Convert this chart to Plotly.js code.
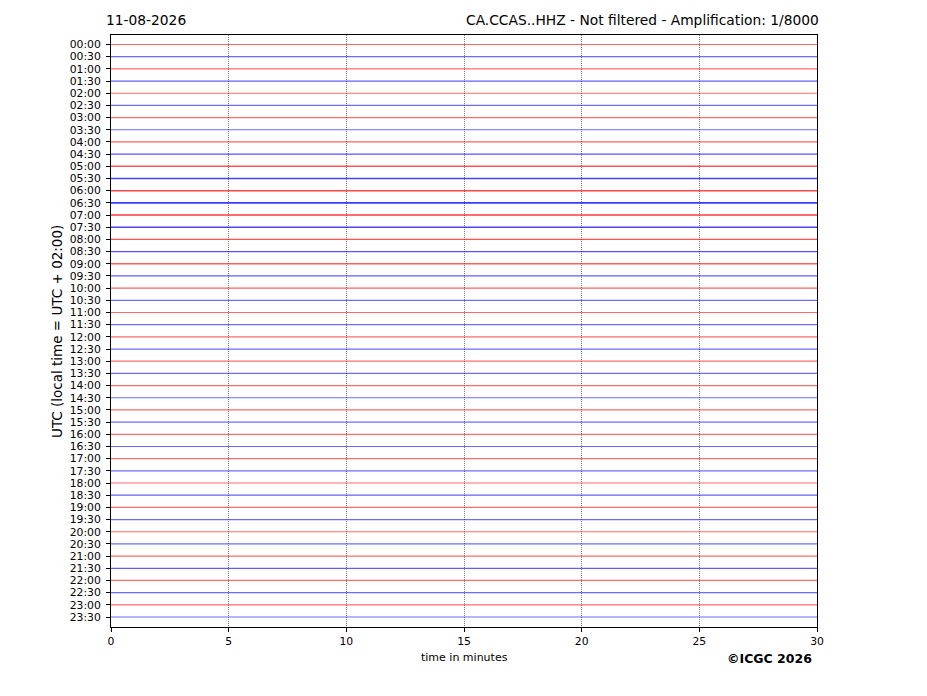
<!DOCTYPE html>
<html>
<head>
<meta charset="utf-8">
<script src="https://cdn.plot.ly/plotly-3.0.1.min.js"></script>
<style>
  body { margin: 0; background: #fff; }
  #chart { width: 927px; height: 696px; }
</style>
</head>
<body>
<div id="chart"></div>
<script>
// one row per half hour, 00:00 .. 23:30
const rowLabels = [
    '00:00','00:30','01:00','01:30','02:00','02:30','03:00','03:30',
    '04:00','04:30','05:00','05:30','06:00','06:30','07:00','07:30',
    '08:00','08:30','09:00','09:30','10:00','10:30','11:00','11:30',
    '12:00','12:30','13:00','13:30','14:00','14:30','15:00','15:30',
    '16:00','16:30','17:00','17:30','18:00','18:30','19:00','19:30',
    '20:00','20:30','21:00','21:30','22:00','22:30','23:00','23:30'
];

// rough noise level of each row (0 = quiet, 1 = busy)
const rowNoise = [
    0.3, 0.3, 0.3, 0.4, 0.3, 0.3, 0.3, 0.3,
    0.4, 0.5, 0.5, 0.6, 0.6, 0.7, 0.7, 0.6,
    0.5, 0.5, 0.4, 0.4, 0.4, 0.3, 0.3, 0.3,
    0.3, 0.3, 0.3, 0.3, 0.3, 0.3, 0.3, 0.3,
    0.3, 0.3, 0.3, 0.3, 0.3, 0.4, 0.3, 0.3,
    0.3, 0.3, 0.3, 0.4, 0.3, 0.3, 0.3, 0.3
];

// minutes covered by every row
const minutes = [0, 30];
const xTicks = [0, 5, 10, 15, 20, 25, 30];

const titleLeft = '11-08-2026';
const titleRight = 'CA.CCAS..HHZ - Not filtered - Amplification: 1/8000';

function plotChart() {
    let chartData = rowLabels.map(function (lbl, i) {
        let col = (i % 2 === 0) ? '255,0,0' : '0,0,255';
        return {
            mode: 'lines',
            x: minutes,
            y: [i, i],
            name: lbl,
            hoverinfo: 'skip',
            line: {
                color: 'rgba(' + col + ',' + (0.45 + 0.45 * rowNoise[i]).toFixed(2) + ')',
                width: 0.9 + 1.0 * rowNoise[i]
            }
        };
    });

    const font = 'DejaVu Sans, sans-serif';

    const layout = {
        width: 927,
        height: 696,
        margin: { l: 111, r: 110, t: 35, b: 69 },
        paper_bgcolor: '#fff',
        plot_bgcolor: '#fff',
        showlegend: false,
        font: { family: font, size: 11, color: '#000' },
        xaxis: {
            range: [0, 30],
            tickvals: xTicks,
            ticks: 'outside',
            ticklen: 4,
            tickcolor: '#000',
            showline: true,
            linecolor: '#000',
            linewidth: 1,
            mirror: true,
            showgrid: true,
            gridcolor: '#444',
            gridwidth: 0.7,
            griddash: '1px,1px',
            zeroline: false,
            tickfont: { size: 10.8 }
        },
        yaxis: {
            range: [47.82, -0.78],
            tickvals: rowLabels.map((_, i) => i),
            ticktext: rowLabels,
            ticks: 'outside',
            ticklen: 4,
            tickcolor: '#000',
            ticklabelstandoff: 3,
            showline: true,
            linecolor: '#000',
            linewidth: 1,
            mirror: true,
            showgrid: false,
            zeroline: false,
            tickfont: { size: 10.8 }
        },
        annotations: [
            {   // left title (date)
                text: titleLeft, xref: 'paper', yref: 'paper',
                x: -0.01, y: 1.0253, xanchor: 'left', yanchor: 'middle',
                showarrow: false, font: { size: 13.8 }
            },
            {   // right title (station)
                text: titleRight, xref: 'paper', yref: 'paper',
                x: 1.0057, y: 1.0253, xanchor: 'right', yanchor: 'middle',
                showarrow: false, font: { size: 13.8 }
            },
            {
                text: 'UTC (local time = UTC + 02:00)', xref: 'paper', yref: 'paper',
                x: -0.0765, y: 0.5, xanchor: 'center', yanchor: 'middle',
                textangle: -90, showarrow: false, font: { size: 13.5 }
            },
            {
                text: 'time in minutes', xref: 'paper', yref: 'paper',
                x: 0.5, y: -0.0507, xanchor: 'center', yanchor: 'middle',
                showarrow: false, font: { size: 11 }
            },
            {
                text: '<b>©ICGC 2026</b>', xref: 'paper', yref: 'paper',
                x: 0.933, y: -0.054, xanchor: 'center', yanchor: 'middle',
                showarrow: false, font: { size: 12.5 }
            }
        ]
    };

    Plotly.newPlot('chart', chartData, layout, { staticPlot: true, displayModeBar: false });
}

plotChart();
</script>
</body>
</html>
